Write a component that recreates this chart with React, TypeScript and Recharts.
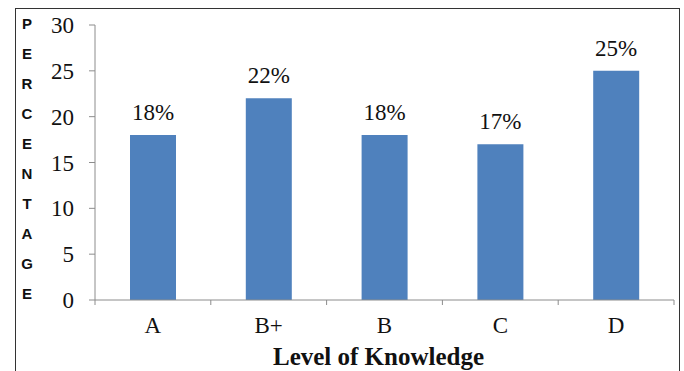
import React from 'react';
import { BarChart, Bar, XAxis, YAxis, LabelList, Label, Customized } from 'recharts';

const levels = ['A', 'B+', 'B', 'C', 'D'];
const percentages = [18, 22, 18, 17, 25];
const yTicks = [0, 5, 10, 15, 20, 25, 30];
const yTitle = 'PERCENTAGE';
const xTitle = 'Level of Knowledge';

const data = levels.map((level, i) => ({ level, value: percentages[i] }));

const SERIF = 'Liberation Serif';
const BAR_COLOR = '#4F81BD';
const AXIS_COLOR = '#8c8c8c';

// category tick: label at the band centre, tick marks at band edges
const CategoryTick = ({ x, y, payload, index }: any) => {
  const half = payload.offset || 0;
  return (
    <g>
      <line x1={x - half} y1={y} x2={x - half} y2={y + 5} stroke={AXIS_COLOR} />
      {index === levels.length - 1 && (
        <line x1={x + half} y1={y} x2={x + half} y2={y + 5} stroke={AXIS_COLOR} />
      )}
      <text x={x} y={y + 33} textAnchor="middle" fill="#111" fontFamily={SERIF} fontSize={23}>
        {payload.value}
      </text>
    </g>
  );
};

const ValueTick = ({ x, y, payload }: any) => (
  <text x={x} y={y} dy="0.35em" textAnchor="end" fill="#111" fontFamily={SERIF} fontSize={23}>
    {payload.value}
  </text>
);

const TopLabel = ({ x, y, width, value }: any) => (
  <text x={x + width / 2} y={y - 15} textAnchor="middle" fill="#111" fontFamily={SERIF} fontSize={23}>
    {`${value}%`}
  </text>
);

const VerticalLetters = ({ viewBox }: any) => {
  const { x, y, height } = viewBox;
  const step = (height - 5) / (yTitle.length - 1);
  return (
    <text textAnchor="middle" fontFamily="Liberation Sans" fontWeight="bold" fontSize={15} fill="#111">
      {yTitle.split('').map((ch, i) => (
        <tspan key={i} x={x - 8} y={y - 2 + i * step} dominantBaseline="central">
          {ch}
        </tspan>
      ))}
    </text>
  );
};

const XTitle = ({ viewBox }: any) => {
  const { x, y, width } = viewBox;
  return (
    <text x={x + width / 2 - 6} y={y + 65} textAnchor="middle" fontFamily={SERIF} fontWeight="bold" fontSize={25} fill="#111">
      {xTitle}
    </text>
  );
};

// outer frame of the figure
const Frame = () => (
  <rect x={15.5} y={8.5} width={664} height={400} fill="none" stroke="#333" strokeWidth={1} />
);

export default function App() {
  return (
    <div style={{ position: 'absolute', left: 0, top: 0, width: 684, height: 371, background: '#fff' }}>
      <BarChart
        width={684}
        height={371}
        data={data}
        margin={{ top: 25, right: 10, bottom: 0, left: 35 }}
      >
        <XAxis
          dataKey="level"
          height={71}
          stroke={AXIS_COLOR}
          tickLine={false}
          tickSize={0}
          tickMargin={0}
          tick={<CategoryTick />}
          interval={0}
        >
          <Label content={<XTitle />} />
        </XAxis>
        <YAxis
          width={60}
          domain={[0, 30]}
          ticks={yTicks}
          interval={0}
          stroke={AXIS_COLOR}
          tickSize={6}
          tickMargin={15}
          tick={<ValueTick />}
        >
          <Label content={<VerticalLetters />} />
        </YAxis>
        <Bar dataKey="value" fill={BAR_COLOR} barSize={46} isAnimationActive={false}>
          <LabelList dataKey="value" content={<TopLabel />} />
        </Bar>
        <Customized component={Frame} />
      </BarChart>
    </div>
  );
}
